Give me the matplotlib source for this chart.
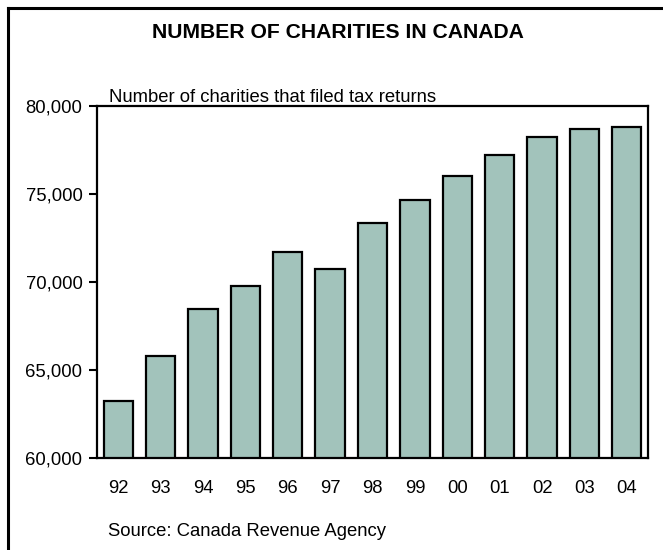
import matplotlib
matplotlib.use("Agg")
import matplotlib.pyplot as plt
from matplotlib.lines import Line2D

plt.rcParams['font.family'] = ['Liberation Sans', 'DejaVu Sans']

# Charities that filed tax returns, by year
years = ["92", "93", "94", "95", "96", "97", "98", "99", "00", "01", "02", "03", "04"]
charities = [63240, 65810, 68470, 69770, 71690, 70720, 73370,
             74660, 76040, 77200, 78220, 78680, 78790]
y_ticks = [60000, 65000, 70000, 75000, 80000]

W, H = 663, 550
fig = plt.figure(figsize=(W / 100, H / 100), dpi=100)
ax = fig.add_axes([97 / W, 1 - 458 / H, (648 - 97) / W, (458 - 106) / H])

x = range(len(years))
ax.bar(x, charities, width=0.69, color="#A2C3BB", edgecolor="black",
       linewidth=1.6, zorder=2)

ax.set_xlim(-0.5, len(years) - 0.5)
ax.set_ylim(60000, 80000)
ax.set_yticks(y_ticks)
ax.set_yticklabels([f"{v:,}" for v in y_ticks], fontsize=13.3)
ax.set_xticks(list(x))
ax.set_xticklabels(years, fontsize=13.3)
ax.tick_params(axis="x", length=0, pad=16)
ax.tick_params(axis="y", length=6, width=1.5, direction="out", pad=4.5)

for s in ax.spines.values():
    s.set_linewidth(1.6)

fig.text(0.509, 1 - 32.5 / H, "NUMBER OF CHARITIES IN CANADA", ha="center",
         va="center", fontsize=15.2, fontweight="bold")
fig.text(109 / W, 1 - 102 / H, "Number of charities that filed tax returns",
         ha="left", va="baseline", fontsize=13.3)
fig.text(108 / W, 1 - 531 / H, "Source: Canada Revenue Agency",
         ha="left", va="center", fontsize=13.3)

# Frame lines along the top and left of the figure
fig.add_artist(Line2D([8 / W, 8 / W], [0, 1 - 8 / H], color="black",
                      linewidth=2.2, transform=fig.transFigure))
fig.add_artist(Line2D([8 / W, 1], [1 - 8 / H, 1 - 8 / H], color="black",
                      linewidth=2.2, transform=fig.transFigure))

fig.savefig("out.png", dpi=100)
